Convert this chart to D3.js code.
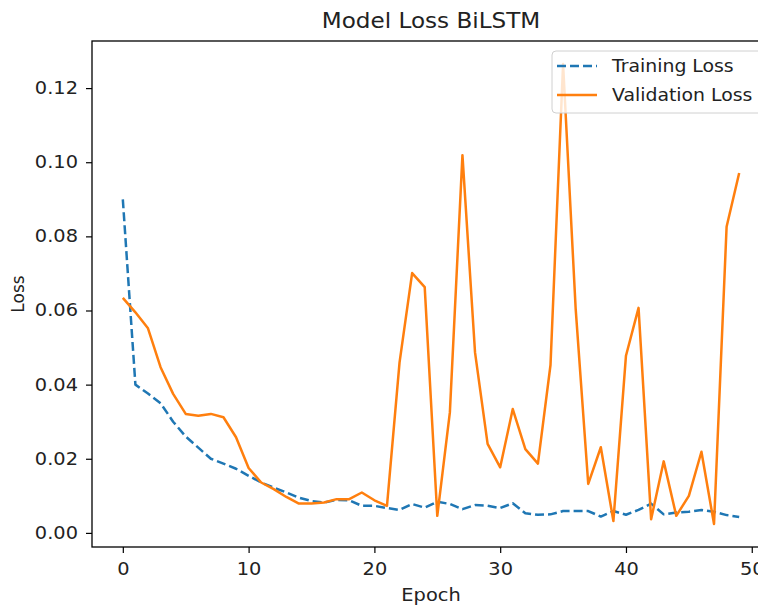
<!DOCTYPE html>
<html>
<head>
<meta charset="utf-8">
<script src="https://cdn.jsdelivr.net/npm/d3@7"></script>
<style>
  body { margin: 0; background: #fff; }
  svg { display: block; font-family: "DejaVu Sans", sans-serif; }
</style>
</head>
<body>
<svg id="chart"></svg>
<script>
// values
const epochs = d3.range(0, 50);
const trainingLoss = [0.090, 0.040, 0.0376, 0.035, 0.030, 0.026, 0.023, 0.020, 0.0187, 0.0173,
  0.0154, 0.0136, 0.0122, 0.0109, 0.0095, 0.0086, 0.0082, 0.0089, 0.0088, 0.0073,
  0.0073, 0.0067, 0.0062, 0.0078, 0.0068, 0.0084, 0.0078, 0.0064, 0.0075, 0.0073,
  0.0067, 0.0080, 0.0053, 0.0049, 0.0050, 0.0059, 0.0059, 0.0059, 0.0044, 0.0059,
  0.0049, 0.0062, 0.0079, 0.0050, 0.0055, 0.0057, 0.0062, 0.0057, 0.0048, 0.0043];
const validationLoss = [0.0634, 0.0595, 0.0552, 0.0447, 0.0375, 0.0321, 0.0316, 0.0321, 0.0312, 0.0258,
  0.0175, 0.0136, 0.0118, 0.0097, 0.0079, 0.0079, 0.0082, 0.0091, 0.0091, 0.0109,
  0.0088, 0.0073, 0.0460, 0.0701, 0.0663, 0.0046, 0.0325, 0.1019, 0.0487, 0.0240,
  0.0177, 0.0334, 0.0226, 0.0187, 0.0453, 0.1265, 0.0605, 0.0132, 0.0231, 0.0032,
  0.0478, 0.0607, 0.0037, 0.0193, 0.0046, 0.0100, 0.0219, 0.0024, 0.0826, 0.0971];
const xTicks = [0, 10, 20, 30, 40, 50];
const yTicks = [0, 0.02, 0.04, 0.06, 0.08, 0.10, 0.12];
const seriesNames = ['Training Loss', 'Validation Loss'];
const seriesColors = ['#1f77b4', '#ff7f0e'];

const width = 758, height = 606;
const margin = {top: 41, right: -12, bottom: 59, left: 92};
const innerW = width - margin.left - margin.right;
const innerH = height - margin.top - margin.bottom;
// the reference text looks a little wider than it is tall
const stretch = 1.14;

const svg = d3.select('#chart').attr('width', width).attr('height', height);
const chart = svg.append('g').attr('transform', `translate(${margin.left},${margin.top})`);

// matplotlib-style 5% margins around the data
const xExt = d3.extent(epochs);
const xPad = (xExt[1] - xExt[0]) * 0.05;
const allY = trainingLoss.concat(validationLoss);
const yExt = d3.extent(allY);
const yPad = (yExt[1] - yExt[0]) * 0.05;

const xScale = d3.scaleLinear().domain([xExt[0] - xPad, xExt[1] + xPad]).range([0, innerW]);
const yScale = d3.scaleLinear().domain([yExt[0] - yPad, yExt[1] + yPad]).range([innerH, 0]);

const line = d3.line().x((d, i) => xScale(epochs[i])).y(d => yScale(d));

chart.append('path')
  .datum(trainingLoss)
  .attr('d', line)
  .attr('fill', 'none')
  .attr('stroke', seriesColors[0])
  .attr('stroke-width', 2.5)
  .attr('stroke-dasharray', '9,4')
  .attr('stroke-linejoin', 'round');

chart.append('path')
  .datum(validationLoss)
  .attr('d', line)
  .attr('fill', 'none')
  .attr('stroke', seriesColors[1])
  .attr('stroke-width', 2.5)
  .attr('stroke-linejoin', 'round');

// axes
const xAxis = d3.axisBottom(xScale).tickValues(xTicks).tickFormat(d3.format('d')).tickSize(6).tickPadding(5);
const yAxis = d3.axisLeft(yScale).tickValues(yTicks).tickFormat(d3.format('.2f')).tickSize(6).tickPadding(5);

const xAxisG = chart.append('g').attr('transform', `translate(0,${innerH})`).call(xAxis);
const yAxisG = chart.append('g').call(yAxis);
[xAxisG, yAxisG].forEach(g => {
  g.select('.domain').remove();
  g.selectAll('.tick line').attr('stroke', '#000').attr('stroke-width', 1.2);
  g.selectAll('.tick text')
    .attr('fill', '#222')
    .attr('transform', `scale(${stretch},1)`)
    .style('font-size', '17px')
    .style('font-family', '"DejaVu Sans", sans-serif');
});
xAxisG.selectAll('.tick text').attr('dy', '1.0em');
yAxisG.selectAll('.tick text').attr('x', -14 / stretch);

// frame
chart.append('rect')
  .attr('x', 0).attr('y', 0).attr('width', innerW).attr('height', innerH)
  .attr('fill', 'none').attr('stroke', '#000').attr('stroke-width', 1.3);

// labels
svg.append('text')
  .attr('transform', `translate(${margin.left + innerW / 2},28) scale(1.1,1)`)
  .attr('text-anchor', 'middle').attr('fill', '#222')
  .style('font-size', '21px')
  .text('Model Loss BiLSTM');

svg.append('text')
  .attr('transform', `translate(${margin.left + innerW / 2},601) scale(${stretch},1)`)
  .attr('text-anchor', 'middle').attr('fill', '#222')
  .style('font-size', '17px')
  .text('Epoch');

svg.append('text')
  .attr('transform', `translate(24,${margin.top + innerH / 2}) rotate(-90)`)
  .attr('text-anchor', 'middle').attr('fill', '#222')
  .style('font-size', '17px')
  .text('Loss');

// legend
const legend = svg.append('g').attr('transform', 'translate(552,51)');
legend.append('rect')
  .attr('width', 212).attr('height', 62).attr('rx', 4)
  .attr('fill', '#fff').attr('fill-opacity', 0.8)
  .attr('stroke', '#d0d0d0').attr('stroke-width', 1);

seriesNames.forEach((name, i) => {
  const y = 15 + i * 29;
  legend.append('line')
    .attr('x1', 5).attr('x2', 45).attr('y1', y).attr('y2', y)
    .attr('stroke', seriesColors[i]).attr('stroke-width', 2.5)
    .attr('stroke-dasharray', i === 0 ? '9,4' : null);
  legend.append('text')
    .attr('transform', `translate(60,${y}) scale(1.11,1)`)
    .attr('dy', '0.35em')
    .attr('fill', '#222').style('font-size', '17px')
    .text(name);
});
</script>
</body>
</html>
